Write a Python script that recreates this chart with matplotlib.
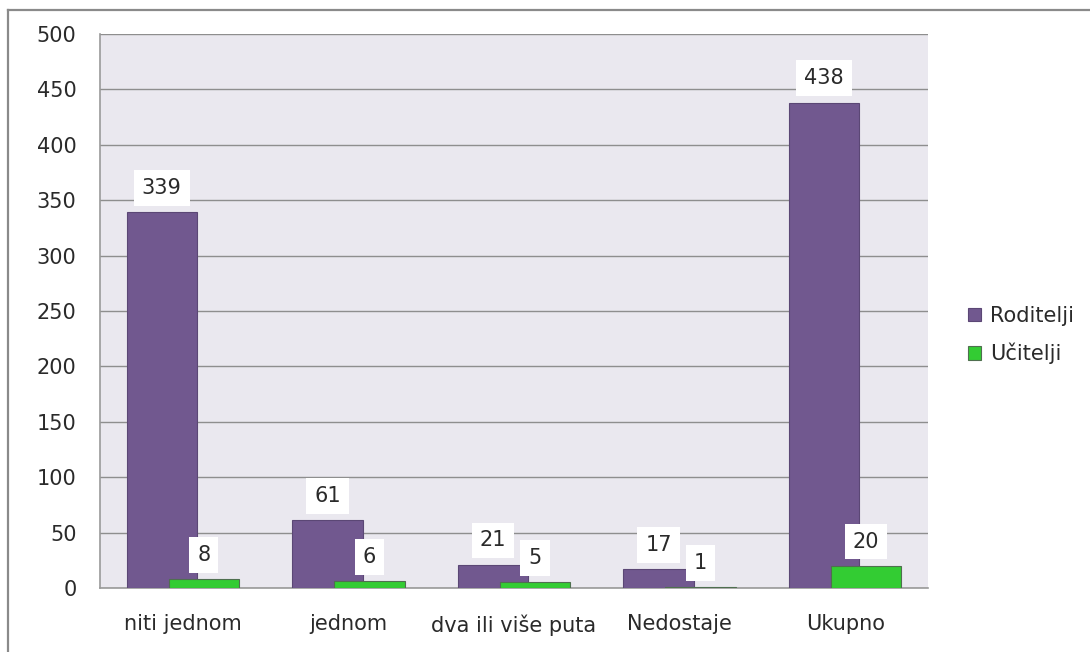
import matplotlib
matplotlib.use("Agg")
import matplotlib.pyplot as plt
from matplotlib.lines import Line2D
import numpy as np

categories = ["niti jednom", "jednom", "dva ili više puta", "Nedostaje", "Ukupno"]
roditelji = [339, 61, 21, 17, 438]
ucitelji = [8, 6, 5, 1, 20]
series_names = ["Roditelji", "Učitelji"]
yticks = [0, 50, 100, 150, 200, 250, 300, 350, 400, 450, 500]

plt.rcParams['font.family'] = ['DejaVu Sans']
FS = 15
TC = "#2A2A2A"

W, H = 1090, 652
fig = plt.figure(figsize=(W / 100, H / 100), dpi=100)
fig.patch.set_facecolor("white")

ax = fig.add_axes([100 / W, (H - 588) / H, (928 - 100) / W, (588 - 34) / H])
ax.set_facecolor("#EAE8EF")

x = np.arange(len(categories))
off = 0.127
bw = 0.425
purple = "#71588F"
green = "#33CC33"

b1 = ax.bar(x - off, roditelji, bw, color=purple, edgecolor="#5B4775", linewidth=0.8, zorder=3, label=series_names[0])
b2 = ax.bar(x + off, ucitelji, bw, color=green, edgecolor="#4F6F4F", linewidth=0.8, zorder=4, label=series_names[1])

bbox = dict(boxstyle="square,pad=0.38", facecolor="white", edgecolor="none")
for xi, v in zip(x - off, roditelji):
    ax.annotate(str(v), (xi, v), xytext=(0, 17.5), textcoords="offset points",
                ha="center", va="center", fontsize=FS, color=TC, bbox=bbox, zorder=5)
for xi, v in zip(x + off, ucitelji):
    ax.annotate(str(v), (xi, v), xytext=(0, 17.5), textcoords="offset points",
                ha="center", va="center", fontsize=FS, color=TC, bbox=bbox, zorder=6)

ax.set_xlim(-0.5, len(categories) - 0.5)
ax.set_ylim(0, 500)
ax.set_yticks(yticks)
ax.set_yticklabels([str(t) for t in yticks], fontsize=FS, color=TC)
ax.set_xticks(x)
ax.set_xticklabels(categories, fontsize=FS, color=TC)
ax.tick_params(axis="y", length=0, pad=17)
ax.tick_params(axis="x", length=0, pad=19)
ax.yaxis.grid(True, color="#8E8E8E", linewidth=1.0, zorder=1)
ax.set_axisbelow(True)
for s in ["top", "right"]:
    ax.spines[s].set_visible(False)
for s in ["left", "bottom"]:
    ax.spines[s].set_color("#9A9A9A")
    ax.spines[s].set_linewidth(1.2)

leg = fig.legend(handles=[b1, b2], labels=series_names, loc="center left",
                 bbox_to_anchor=(949 / W, 1 - 335 / H), frameon=False,
                 fontsize=FS, handlelength=0.62, handleheight=0.62,
                 handletextpad=0.43, labelspacing=0.82)
for t in leg.get_texts():
    t.set_color(TC)

# outer frame
fig.add_artist(Line2D([8 / W, 8 / W], [0, 1 - 10 / H], transform=fig.transFigure, color="#8A8A8A", linewidth=1.6))
fig.add_artist(Line2D([8 / W, 1], [1 - 10 / H, 1 - 10 / H], transform=fig.transFigure, color="#8A8A8A", linewidth=1.6))

fig.savefig("out.png", dpi=100, facecolor="white")
